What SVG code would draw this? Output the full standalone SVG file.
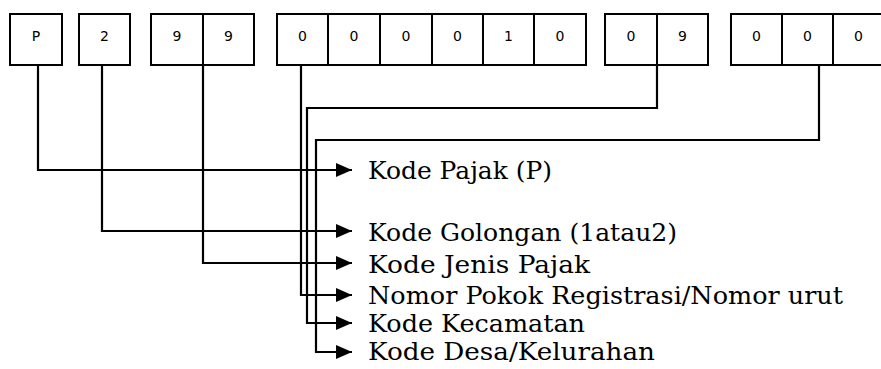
<svg xmlns="http://www.w3.org/2000/svg" width="881" height="369" viewBox="0 0 881 369">
<defs>
<style>
.cell{fill:#fff;stroke:#000;stroke-width:2}
.d{font-family:"DejaVu Sans",sans-serif;font-size:14px;text-anchor:middle;fill:#000}
.lbl{font-family:"DejaVu Serif",serif;font-size:24px;fill:#000}
.ln{fill:none;stroke:#000;stroke-width:2.2}
</style>
<marker id="ah" markerWidth="16" markerHeight="14" refX="16" refY="7" orient="auto" markerUnits="userSpaceOnUse">
<path d="M0,0 L16,7 L0,14 Z" fill="#000"/>
</marker>
</defs>
<g id="connectors">
<path class="ln" d="M38,66 V170 H352" marker-end="url(#ah)"/>
<path class="ln" d="M102,66 V231 H352" marker-end="url(#ah)"/>
<path class="ln" d="M203,66 V263 H352" marker-end="url(#ah)"/>
<path class="ln" d="M301,66 V295 H352" marker-end="url(#ah)"/>
<path class="ln" d="M657,66 V108 H307 V323 H352" marker-end="url(#ah)"/>
<path class="ln" d="M819,66 V140 H316 V352 H352" marker-end="url(#ah)"/>
</g>
<g id="node-p"><rect class="cell" x="10" y="14" width="52" height="51"/><text class="d" x="36" y="41">P</text></g>
<g id="node-2"><rect class="cell" x="79" y="14" width="51" height="51"/><text class="d" x="104.5" y="41">2</text></g>
<g id="node-99">
<rect class="cell" x="151" y="14" width="52" height="51"/><text class="d" x="177" y="41">9</text>
<rect class="cell" x="203" y="14" width="51" height="51"/><text class="d" x="228.5" y="41">9</text>
</g>
<g id="node-000010">
<rect class="cell" x="277" y="14" width="51" height="51"/><text class="d" x="302.5" y="41">0</text>
<rect class="cell" x="328" y="14" width="52" height="51"/><text class="d" x="354" y="41">0</text>
<rect class="cell" x="380" y="14" width="52" height="51"/><text class="d" x="406" y="41">0</text>
<rect class="cell" x="432" y="14" width="51" height="51"/><text class="d" x="457.5" y="41">0</text>
<rect class="cell" x="483" y="14" width="51" height="51"/><text class="d" x="508.5" y="41">1</text>
<rect class="cell" x="534" y="14" width="52" height="51"/><text class="d" x="560" y="41">0</text>
</g>
<g id="node-09">
<rect class="cell" x="605" y="14" width="52" height="51"/><text class="d" x="631" y="41">0</text>
<rect class="cell" x="657" y="14" width="51" height="51"/><text class="d" x="682.5" y="41">9</text>
</g>
<g id="node-000">
<rect class="cell" x="731" y="14" width="51" height="51"/><text class="d" x="756.5" y="41">0</text>
<rect class="cell" x="782" y="14" width="51" height="51"/><text class="d" x="807.5" y="41">0</text>
<rect class="cell" x="833" y="14" width="52" height="51"/><text class="d" x="858.5" y="41">0</text>
</g>
<g id="labels">
<text class="lbl" x="368" y="179" textLength="184" lengthAdjust="spacingAndGlyphs">Kode Pajak (P)</text>
<text class="lbl" x="368" y="241" textLength="309" lengthAdjust="spacingAndGlyphs">Kode Golongan (1atau2)</text>
<text class="lbl" x="368" y="273" textLength="222" lengthAdjust="spacingAndGlyphs">Kode Jenis Pajak</text>
<text class="lbl" x="368" y="304" textLength="475" lengthAdjust="spacingAndGlyphs">Nomor Pokok Registrasi/Nomor urut</text>
<text class="lbl" x="368" y="332" textLength="217" lengthAdjust="spacingAndGlyphs">Kode Kecamatan</text>
<text class="lbl" x="368" y="360" textLength="287" lengthAdjust="spacingAndGlyphs">Kode Desa/Kelurahan</text>
</g>
</svg>
